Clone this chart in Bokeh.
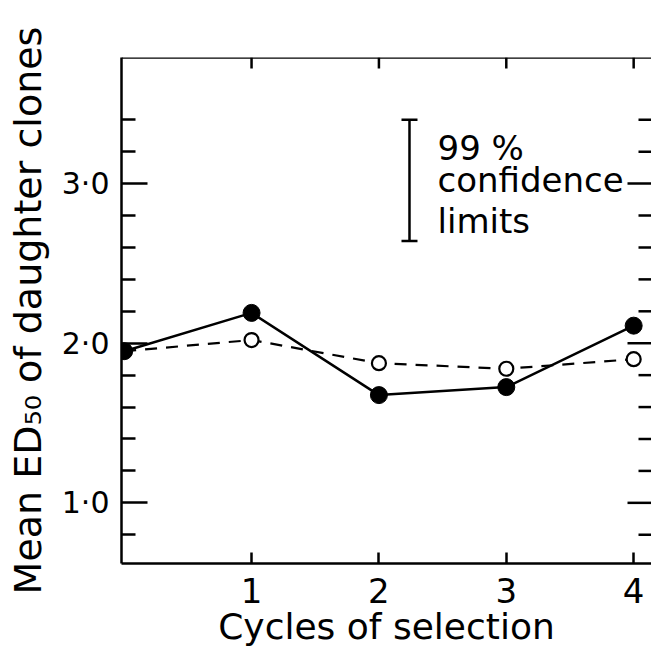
import math
from bokeh.plotting import figure
from bokeh.models import FixedTicker, Range1d, Whisker, ColumnDataSource, TeeHead, Span
from bokeh.core.properties import value
from bokeh.embed import file_html
from bokeh.resources import INLINE

# ---- data ----
cycles = [0, 1, 2, 3, 4]
ed50_solid = [1.95, 2.19, 1.675, 1.725, 2.11]     # filled circles, solid line
ed50_dashed = [1.95, 2.02, 1.875, 1.84, 1.90]     # open circles, dashed line
x_ticks = [1, 2, 3, 4]
y_major = [1, 2, 3]
y_minor = [0.8, 1.2, 1.4, 1.6, 1.8, 2.2, 2.4, 2.6, 2.8, 3.2, 3.4]
y_labels = {1: "1·0", 2: "2·0", 3: "3·0"}
ci_x = [2.24]
ci_low = [2.64]
ci_high = [3.40]
ci_text = ["99 %", "confidence", "limits"]
ci_text_y = [3.225, 3.025, 2.765]
ci_text_x = 2.46

X_START, X_END = -0.021, 4.14
Y_START, Y_END = 0.62, 3.79

FONT = "DejaVu Sans"
LW = 2.5

p = figure(width=651, height=650, output_backend="svg", toolbar_location=None,
           x_range=Range1d(X_START, X_END), y_range=Range1d(Y_START, Y_END),
           min_border_left=121, min_border_right=0, min_border_top=57, min_border_bottom=87)
p.outline_line_color = None
p.xgrid.visible = False
p.ygrid.visible = False
p.background_fill_color = "white"
p.border_fill_color = "white"

def style_axis(ax, size):
    ax.axis_line_width = LW
    ax.axis_line_color = "black"
    ax.major_tick_line_width = LW
    ax.minor_tick_line_width = LW
    ax.major_tick_line_color = "black"
    ax.minor_tick_line_color = "black"
    ax.major_tick_out = 0
    ax.minor_tick_out = 0
    ax.major_label_text_font = FONT
    ax.major_label_text_color = "black"
    ax.major_label_text_font_size = size
    ax.axis_label_text_font = FONT
    ax.axis_label_text_font_style = "normal"
    ax.axis_label_text_color = "black"

# x axis (bottom)
xa = p.xaxis[0]
xa.ticker = FixedTicker(ticks=x_ticks)
style_axis(xa, "34px")
xa.major_tick_in = 11
xa.major_label_standoff = 14
xa.axis_label = "Cycles of selection"
xa.axis_label_text_font_size = "36px"
xa.axis_label_standoff = 0

# y axis (left)
ya = p.yaxis[0]
ya.ticker = FixedTicker(ticks=y_major, minor_ticks=y_minor)
style_axis(ya, "30px")
ya.major_tick_in = 26
ya.minor_tick_in = 14
ya.major_label_overrides = y_labels
ya.major_label_standoff = 12
ya.axis_label = "Mean ED₅₀ of daughter clones"
ya.axis_label_text_font_size = "38px"
ya.axis_label_standoff = 9

# top frame line with inward ticks
p.add_layout(Span(location=Y_END, dimension="width", line_color="black", line_width=LW))
p.ray(x=x_ticks, y=[Y_END] * len(x_ticks), length=11, length_units="screen",
      angle=-math.pi / 2, line_color="black", line_width=LW)

# right side inward ticks (frame edge itself lies off the picture)
p.ray(x=[X_END] * len(y_major), y=y_major, length=24, length_units="screen",
      angle=math.pi, line_color="black", line_width=LW)
p.ray(x=[X_END] * len(y_minor), y=y_minor, length=13, length_units="screen",
      angle=math.pi, line_color="black", line_width=LW)

# confidence bar
ci_src = ColumnDataSource(dict(base=ci_x, lower=ci_low, upper=ci_high))
p.add_layout(Whisker(source=ci_src, base="base", lower="lower", upper="upper",
                     dimension="height", line_width=LW, line_color="black",
                     upper_head=TeeHead(size=16, line_width=LW, line_color="black"),
                     lower_head=TeeHead(size=16, line_width=LW, line_color="black")))
p.text(x=[ci_text_x] * len(ci_text), y=ci_text_y, text=ci_text, text_font=value(FONT),
       text_font_size=value("34px"), text_baseline="alphabetic", text_color="black")

# series
p.line(cycles, ed50_dashed, line_width=2.2, line_color="black", line_dash="12 9")
p.line(cycles, ed50_solid, line_width=LW, line_color="black")
p.scatter(cycles, ed50_dashed, size=14, fill_color="white", line_color="black", line_width=2.2)
p.scatter(cycles, ed50_solid, size=17, fill_color="black", line_color="black")

open("out.html", "w").write(file_html(p, INLINE))
